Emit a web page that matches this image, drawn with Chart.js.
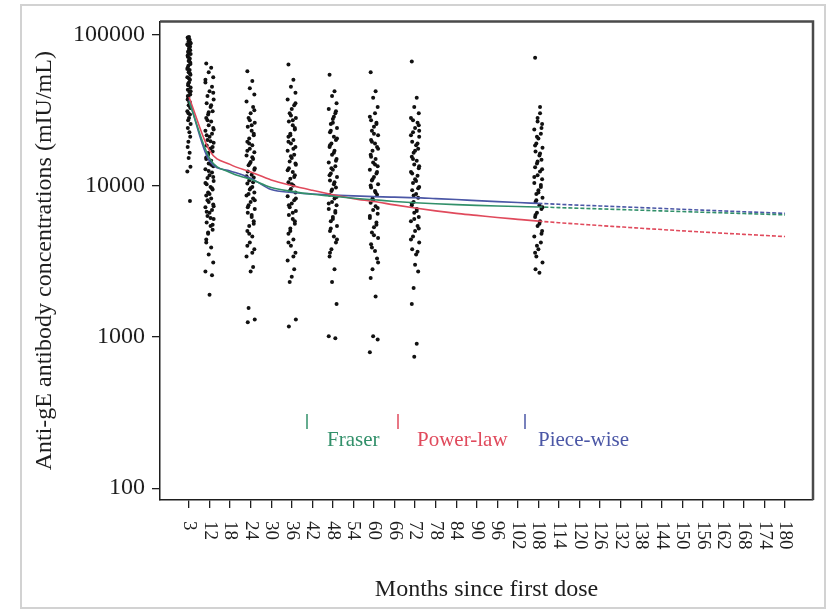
<!DOCTYPE html>
<html>
<head>
<meta charset="utf-8">
<script src="https://cdn.jsdelivr.net/npm/chart.js@4/dist/chart.umd.min.js"></script>
<style>
  body { margin: 0; background: #fff; }
  #frame { position: absolute; left: 20px; top: 4px; width: 802px; height: 601px; border: 2px solid #d2d2d2; }
  #chart { position: absolute; left: 0; top: 0; }
</style>
</head>
<body>
<div id="frame"></div>
<canvas id="chart" width="831" height="611"></canvas>
<script>
// x axis is categorical-like: 3, then every 6 months from 12 to 180
const monthTicks = [3, 12, 18, 24, 30, 36, 42, 48, 54, 60, 66, 72, 78, 84, 90, 96, 102, 108,
    114, 120, 126, 132, 138, 144, 150, 156, 162, 168, 174, 180];
const yTicks = [100, 1000, 10000, 100000];

// model curves (mIU/mL), one value per tick month
const fraser = [36000, 15200, 12200, 11000, 9700, 9150, 8750, 8500, 8250, 8050, 7850, 7700, 7580, 7480, 7400, 7330, 7270, 7220,
    7150, 7080, 7010, 6940, 6870, 6800, 6730, 6660, 6600, 6530, 6470, 6400];
const powerLaw = [38500, 17000, 13800, 12300, 10900, 10000, 9300, 8700, 8200, 7850, 7450, 7100, 6800, 6550, 6350, 6150, 5980, 5820,
    5680, 5560, 5440, 5330, 5220, 5120, 5020, 4930, 4840, 4760, 4680, 4600];
const pieceWise = [37000, 14500, 12500, 11200, 9400, 9000, 8800, 8650, 8550, 8450, 8380, 8320, 8200, 8080, 7950, 7830, 7720, 7620,
    7520, 7420, 7330, 7240, 7150, 7060, 6970, 6880, 6800, 6710, 6630, 6550];
const observedUntil = 108; // curves are extrapolated (dashed) after this month

// individual observations per visit month
const obs3 = [95000, 92000, 90000, 88000, 86000, 83000, 80000, 77000, 74000, 71000, 68000, 65000, 62000, 60000, 58000,
    56000, 54000, 52000, 50000, 48000, 46000, 44500, 43000, 41500, 40000, 38500, 37000, 35500, 34000, 32500, 31000,
    29500, 28000, 27000, 25500, 24000, 22500, 21000, 19500, 18000, 16500, 15200, 13300, 12400, 7900,
    96000, 93500, 87000, 84500, 81500, 78500, 75500, 72500, 69500, 66500, 63500, 59000, 55000, 51000, 47000, 42000,
    39000, 36000, 33000, 30000];
const obs12 = [64000, 60000, 56000, 52000, 48000, 45000, 42000, 39000, 37000, 35000, 33000, 31000, 29500, 28000, 26500,
    25000, 24000, 23000, 22000, 21000, 20000, 19200, 18400, 17600, 16800, 16000, 15300, 14600, 14000, 13400, 12800,
    12200, 11700, 11200, 10700, 10200, 9800, 9400, 9000, 8600, 8200, 7800, 7500, 7200, 6900, 6600, 6300, 6000, 5700,
    5400, 5100, 4800, 4400, 3900, 3500, 3100, 2700, 2550, 1900,
    27000, 23500, 21500, 19600, 18000, 16400, 15000, 13700, 12500, 11400, 10400, 9600, 8800, 8000, 7300, 6700, 6100,
    5500, 4900, 4200, 34000, 30500, 41000, 50000];
const obs24 = [57000, 49000, 44000, 40000, 36000, 33000, 30000, 28000, 26000, 24500, 23000, 21500, 20500, 19500, 18500,
    17500, 16600, 15800, 15000, 14300, 13600, 13000, 12400, 11800, 11300, 10800, 10300, 9800, 9400, 9000, 8600, 8200,
    7800, 7400, 7000, 6600, 6200, 5800, 5400, 5000, 4600, 4200, 3800, 3400, 2900, 2700, 1550, 1300, 1250,
    25000, 22000, 19000, 17000, 15400, 14000, 12700, 11500, 10500, 9600, 8800, 8000, 7200, 6400, 5600, 4800, 4000,
    3600, 27000, 31500];
const obs36 = [63000, 50000, 45000, 41000, 37000, 34000, 32000, 30000, 28000, 26500, 25000, 23500, 22000, 21000, 20000,
    19000, 18000, 17000, 16000, 15200, 14400, 13700, 13000, 12300, 11700, 11100, 10500, 10000, 9500, 9000, 8500, 8000,
    7600, 7200, 6800, 6400, 6000, 5600, 5200, 4800, 4400, 4000, 3600, 3200, 2800, 2500, 2300, 1300, 1170,
    27000, 24000, 21500, 19500, 17500, 15600, 14000, 12600, 11400, 10200, 9200, 8200, 7400, 6600, 5800, 5000, 4200,
    3400, 29000, 35000];
const obs48 = [54000, 42000, 39000, 35000, 32000, 30000, 27500, 25500, 24000, 22500, 21000, 20000, 19000, 18000, 17000,
    16000, 15000, 14200, 13400, 12700, 12000, 11400, 10800, 10200, 9700, 9200, 8700, 8200, 7800, 7400, 7000, 6600, 6200,
    5800, 5400, 5000, 4600, 4200, 3800, 3400, 2800, 2300, 1650, 1010, 980,
    26000, 23000, 20500, 18500, 16500, 14600, 13000, 11700, 10500, 9400, 8400, 7600, 6800, 6000, 5200, 4400, 3600,
    28500, 31000];
const obs60 = [56000, 42000, 38000, 33000, 28500, 26000, 24500, 23000, 21500, 20000, 19000, 18000, 17000, 16000, 15000,
    14200, 13400, 12700, 12000, 11400, 10800, 10200, 9700, 9200, 8700, 8200, 7700, 7300, 6900, 6500, 6100, 5700, 5300,
    4900, 4500, 4100, 3700, 3300, 2800, 2450, 1850, 1010, 960, 790,
    25500, 22000, 19500, 17500, 15500, 13800, 12300, 11000, 10000, 9000, 8000, 7100, 6300, 5500, 4700, 3900, 3100,
    27000, 30000];
const obs72 = [66000, 38000, 33000, 30000, 28000, 26000, 24000, 22500, 21000, 19500, 18500, 17500, 16500, 15500, 14600,
    13800, 13000, 12300, 11600, 11000, 10400, 9800, 9300, 8800, 8300, 7800, 7400, 7000, 6600, 6200, 5800, 5400, 5000,
    4600, 4200, 3800, 3500, 2700, 2100, 1650, 900, 740,
    25000, 21500, 19000, 17000, 15000, 13400, 12000, 10700, 9600, 8600, 7600, 6800, 6000, 5200, 4400, 3650, 3000,
    27000, 23000];
const obs108 = [70000, 33000, 28000, 25500, 23500, 22000, 20500, 19000, 17800, 16800, 15800, 14800, 14000, 13200, 12400,
    11700, 11000, 10400, 9800, 9300, 8800, 8300, 7800, 7400, 7000, 6600, 6200, 5800, 5400, 5000, 4600, 4200, 3800, 3400,
    3100, 2800, 2650,
    24000, 21000, 18400, 16300, 14400, 12800, 11400, 10100, 9000, 8000, 7200, 6400, 5600, 4800, 4000, 3600, 30000, 26500];

const visits = [[3, obs3], [12, obs12], [24, obs24], [36, obs36], [48, obs48], [60, obs60], [72, obs72], [108, obs108]];
// horizontal spread of the dots inside a column (in tick units)
const jitter = [-0.16, 0.08, -0.04, 0.18, -0.2, 0.12, 0.0, -0.1, 0.2, -0.14, 0.05, 0.15, -0.07];

const serif = '"Liberation Serif", "Times New Roman", serif';
const ink = '#1e1e1e';

function pos(month) {
    return monthTicks.indexOf(month);
}

let dots = [];
visits.forEach(function(v) {
    let spread = v[0] === 3 ? 0.4 : 1;
    v[1].forEach(function(val, i) {
        dots.push({x: pos(v[0]) + jitter[i % jitter.length] * spread, y: val});
    });
});

function curve(label, values, color) {
    return {
        type: 'line',
        label: label,
        data: monthTicks.map((m, i) => ({x: i, y: values[i]})),
        borderColor: color,
        backgroundColor: color,
        borderWidth: 1.6,
        pointRadius: 0,
        cubicInterpolationMode: 'monotone',
        order: 0,
        segment: {
            borderDash: ctx => ctx.p0.parsed.x >= pos(observedUntil) ? [4, 2] : undefined
        }
    };
}

// legend drawn inside the plot, R style: short vertical mark then the label
const insideLegend = {
    id: 'insideLegend',
    afterDatasetsDraw(chart) {
        let ctx = chart.ctx;
        let marks = [307, 398, 525];
        let texts = [327, 417, 538];
        let lines = chart.data.datasets.filter(d => d.type === 'line');
        ctx.save();
        ctx.font = '21px ' + serif;
        ctx.textBaseline = 'alphabetic';
        lines.forEach(function(d, i) {
            ctx.strokeStyle = d.borderColor;
            ctx.lineWidth = 1.5;
            ctx.beginPath();
            ctx.moveTo(marks[i], 414);
            ctx.lineTo(marks[i], 429);
            ctx.stroke();
            ctx.fillStyle = d.borderColor;
            ctx.fillText(d.label, texts[i], 446);
        });
        ctx.restore();
    }
};

// top and right sides of the box, and vertical x labels reading downwards
const boxAndLabels = {
    id: 'boxAndLabels',
    afterDraw(chart) {
        let ctx = chart.ctx;
        let a = chart.chartArea;
        ctx.save();
        ctx.strokeStyle = '#4a4a4a';
        ctx.lineWidth = 2.5;
        ctx.beginPath();
        ctx.moveTo(a.left, a.top);
        ctx.lineTo(a.right, a.top);
        ctx.lineTo(a.right, a.bottom);
        ctx.stroke();

        let xs = chart.scales.x;
        ctx.fillStyle = ink;
        ctx.font = '19px ' + serif;
        ctx.textAlign = 'left';
        ctx.textBaseline = 'middle';
        xs.ticks.forEach(function(t) {
            ctx.save();
            ctx.translate(xs.getPixelForValue(t.value), xs.top + 21);
            ctx.rotate(Math.PI / 2);
            ctx.fillText(String(monthTicks[t.value]), 0, 0);
            ctx.restore();
        });
        ctx.restore();
    }
};

new Chart(document.getElementById('chart'), {
    type: 'scatter',
    data: {
        datasets: [
            curve('Fraser', fraser, '#32906a'),
            curve('Power-law', powerLaw, '#e04a5c'),
            curve('Piece-wise', pieceWise, '#4b57a6'),
            {
                type: 'scatter',
                label: 'observations',
                data: dots,
                pointRadius: 2,
                pointBorderWidth: 0,
                pointBackgroundColor: '#111',
                order: 1
            }
        ]
    },
    options: {
        responsive: false,
        animation: false,
        layout: {padding: {left: 0, top: 15, right: 18, bottom: 0}},
        plugins: {legend: {display: false}, tooltip: {enabled: false}},
        scales: {
            x: {
                type: 'linear',
                min: -1.41,
                max: 30.36,
                afterBuildTicks: s => { s.ticks = monthTicks.map((m, i) => ({value: i})); },
                afterFit: s => { s.height = 111; },
                ticks: {display: false, autoSkip: false},
                grid: {drawOnChartArea: false, tickLength: 8, tickColor: ink, lineWidth: 1.3},
                border: {color: ink, width: 1.5},
                title: {
                    display: true,
                    text: 'Months since first dose',
                    color: ink,
                    font: {family: serif, size: 24},
                    padding: {top: 0, bottom: 7}
                }
            },
            y: {
                type: 'logarithmic',
                min: 83.5,
                max: 121600,
                afterBuildTicks: s => { s.ticks = yTicks.map(v => ({value: v})); },
                afterFit: s => { s.width = 160; },
                ticks: {
                    callback: v => String(v),
                    color: ink,
                    font: {family: serif, size: 24},
                    padding: 7
                },
                grid: {drawOnChartArea: false, tickLength: 8, tickColor: ink, lineWidth: 1.3},
                border: {color: ink, width: 1.5},
                title: {
                    display: true,
                    text: 'Anti-gE antibody concentrations (mIU/mL)',
                    color: ink,
                    font: {family: serif, size: 24},
                    padding: {top: 30, bottom: 0}
                }
            }
        }
    },
    plugins: [insideLegend, boxAndLabels]
});
</script>
</body>
</html>
